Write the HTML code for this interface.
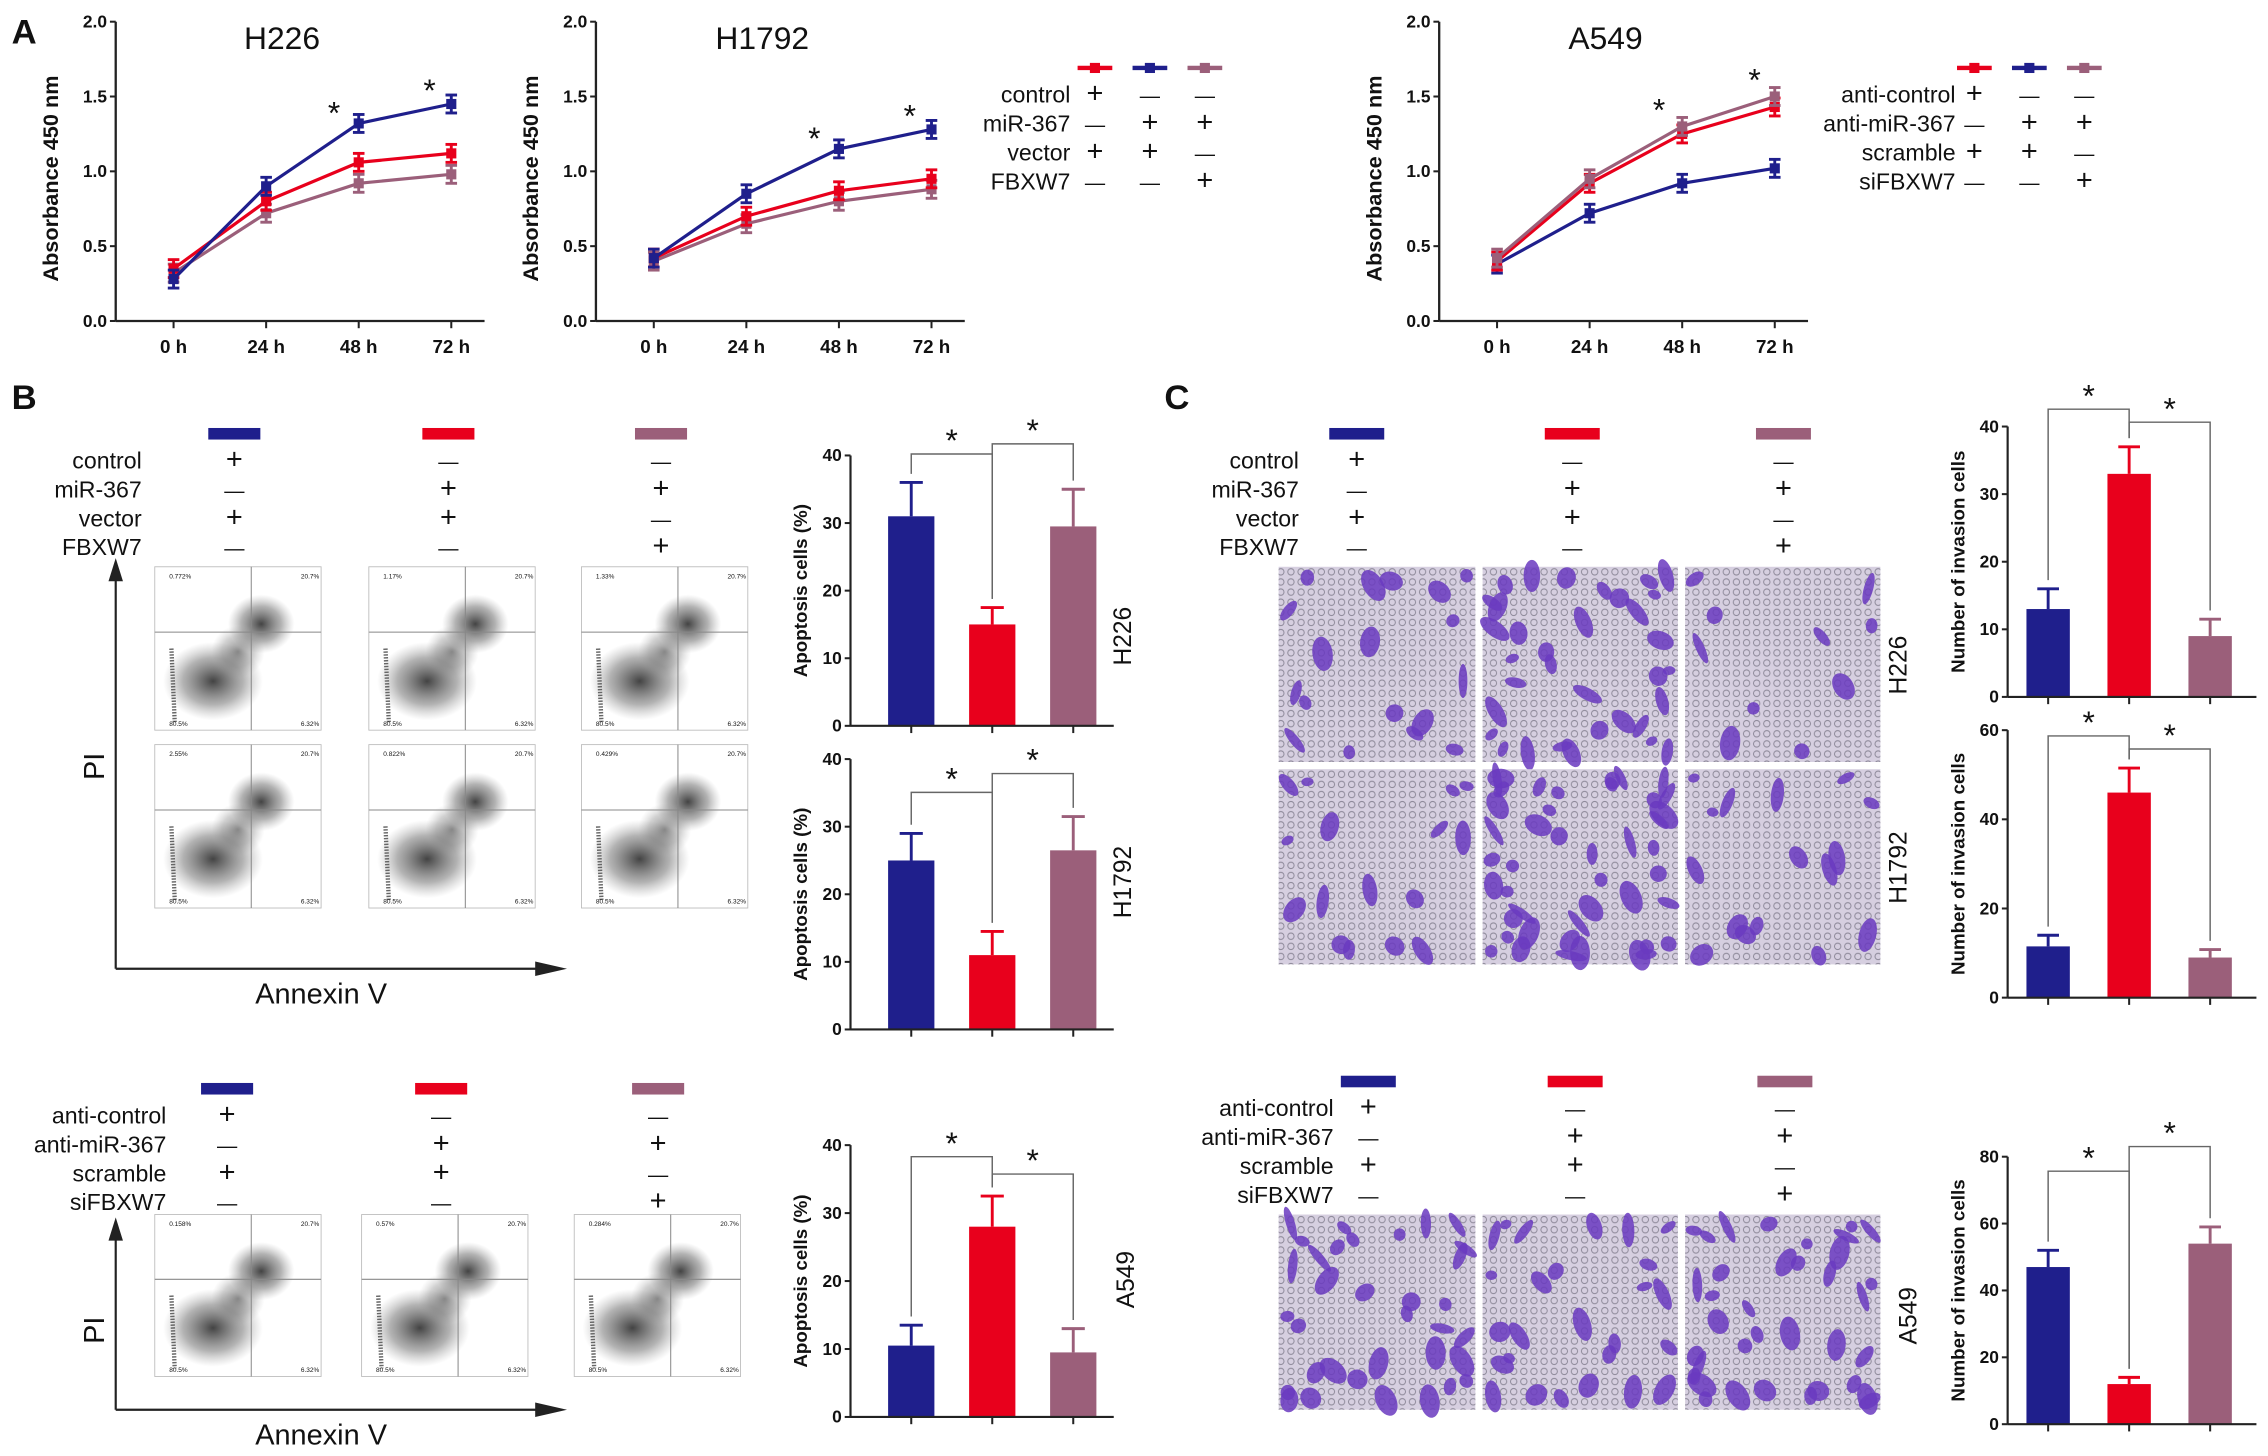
<!DOCTYPE html>
<html><head><meta charset="utf-8"><style>
html,body{margin:0;padding:0;background:#fff}
svg{display:block;font-family:"Liberation Sans",Arial,sans-serif}
</style></head><body>
<svg id="fig" xmlns="http://www.w3.org/2000/svg" width="2268" height="1456" viewBox="0 0 1568 1007" preserveAspectRatio="none">
<defs>
<radialGradient id="cloud"><stop offset="0" stop-color="#222" stop-opacity="0.85"/><stop offset="0.6" stop-color="#555" stop-opacity="0.45"/><stop offset="1" stop-color="#888" stop-opacity="0"/></radialGradient>
<pattern id="rings" width="7" height="7" patternUnits="userSpaceOnUse"><circle cx="3.5" cy="3.5" r="2.2" fill="none" stroke="#7c7888" stroke-width="0.7"/></pattern>
</defs>
<g id="root"></g>
</svg>
<script>
// ---- Panel A data ----
const timeLabels = ["0 h","24 h","48 h","72 h"];
const aTicks = [0,0.5,1.0,1.5,2.0];
const h226Blue = [0.28,0.90,1.32,1.45];
const h226Red = [0.35,0.80,1.06,1.12];
const h226Mauve = [0.32,0.72,0.92,0.98];
const h1792Blue = [0.42,0.85,1.15,1.28];
const h1792Red = [0.42,0.70,0.87,0.95];
const h1792Mauve = [0.40,0.65,0.80,0.88];
const a549Blue = [0.38,0.72,0.92,1.02];
const a549Red = [0.40,0.92,1.25,1.43];
const a549Mauve = [0.42,0.95,1.30,1.50];
// ---- Panel B data (apoptosis %) ----
const apoH226 = [31,15,29.5]; const apoH226Err = [5,2.5,5.5];
const apoH1792 = [25,11,26.5]; const apoH1792Err = [4,3.5,5];
const apoA549 = [10.5,28,9.5]; const apoA549Err = [3,4.5,3.5];
const apoTicks = [0,10,20,30,40];
// ---- Panel C data (invasion cells) ----
const invH226 = [13,33,9]; const invH226Err = [3,4,2.5];
const invH1792 = [11.5,46,9]; const invH1792Err = [2.5,5.5,1.8];
const invA549 = [47,12,54]; const invA549Err = [5,2,5];
const invTicks40 = [0,10,20,30,40];
const invTicks60 = [0,20,40,60];
const invTicks80 = [0,20,40,60,80];

const BLUE="#1f1f8c", RED="#e8001c", MAUVE="#9b5f7a";
const NS="http://www.w3.org/2000/svg";
const root=document.getElementById('root');
function el(tag,attrs,parent,text){const e=document.createElementNS(NS,tag);for(const k in attrs)e.setAttribute(k,attrs[k]);if(text!==undefined)e.textContent=text;(parent||root).appendChild(e);return e;}
function txt(x,y,s,size,opts,parent){const o=Object.assign({x:x,y:y,'font-size':size,fill:'#111'},opts||{});return el('text',o,parent,s);}

let t;
t=txt(8,30,"A",24,{'font-weight':'bold'});
t=txt(8,283,"B",24,{'font-weight':'bold'});
t=txt(805,283,"C",24,{'font-weight':'bold'});

function lineChart(name,ax,title,series){
  const g=el('g',{});
  
  
  const y0=222,yTop=15;
  const ys=v=>y0-(v/2.0)*(y0-yTop);
  const xs=i=>ax+40+i*64;
  el('line',{x1:ax,y1:yTop,x2:ax,y2:y0,stroke:'#222','stroke-width':1.6},g);
  el('line',{x1:ax,y1:y0,x2:ax+255,y2:y0,stroke:'#222','stroke-width':1.6},g);
  aTicks.forEach(v=>{el('line',{x1:ax-4,y1:ys(v),x2:ax,y2:ys(v),stroke:'#222','stroke-width':1.4},g);
    const tl=txt(ax-6,ys(v)+4,v.toFixed(1),12,{'text-anchor':'end','font-weight':'bold'},g);});
  timeLabels.forEach((s,i)=>{el('line',{x1:xs(i),y1:y0,x2:xs(i),y2:y0+5,stroke:'#222','stroke-width':1.4},g);
    const tl=txt(xs(i),y0+22,s,13,{'text-anchor':'middle','font-weight':'bold'},g);});
  const yt=txt(0,0,"Absorbance 450 nm",15,{'font-weight':'bold','text-anchor':'middle',transform:`translate(${ax-40},${(y0+yTop)/2+5}) rotate(-90)`},g);
  
  const tt=txt(ax+115,34,title,22,{'text-anchor':'middle'},g);
  series.forEach(s=>{
    const p=el('polyline',{points:s.vals.map((v,i)=>xs(i)+','+ys(v)).join(' '),fill:'none',stroke:s.c,'stroke-width':2.2},g);
    
    s.vals.forEach((v,i)=>{const e=0.06;
      el('line',{x1:xs(i),y1:ys(v+e),x2:xs(i),y2:ys(v-e),stroke:s.c,'stroke-width':2},g);
      el('line',{x1:xs(i)-4,y1:ys(v+e),x2:xs(i)+4,y2:ys(v+e),stroke:s.c,'stroke-width':2},g);
      el('line',{x1:xs(i)-4,y1:ys(v-e),x2:xs(i)+4,y2:ys(v-e),stroke:s.c,'stroke-width':2},g);
      const m=el('rect',{x:xs(i)-3.5,y:ys(v)-3.5,width:7,height:7,fill:s.c},g);
      });
  });
  return {g,xs,ys};
}
const c1=lineChart('line-chart-h226',80,"H226",[{n:'mauve',c:MAUVE,vals:h226Mauve},{n:'red',c:RED,vals:h226Red},{n:'blue',c:BLUE,vals:h226Blue}]);
txt(c1.xs(2)-17,c1.ys(h226Blue[2])+0,"*",22,{'text-anchor':'middle'},c1.g);
txt(c1.xs(3)-15,c1.ys(h226Blue[3])-2,"*",22,{'text-anchor':'middle'},c1.g);
const c2=lineChart('line-chart-h1792',412,"H1792",[{n:'mauve',c:MAUVE,vals:h1792Mauve},{n:'red',c:RED,vals:h1792Red},{n:'blue',c:BLUE,vals:h1792Blue}]);
txt(c2.xs(2)-17,c2.ys(h1792Blue[2])+0,"*",22,{'text-anchor':'middle'},c2.g);
txt(c2.xs(3)-15,c2.ys(h1792Blue[3])-2,"*",22,{'text-anchor':'middle'},c2.g);
const c3=lineChart('line-chart-a549',995,"A549",[{n:'blue',c:BLUE,vals:a549Blue},{n:'red',c:RED,vals:a549Red},{n:'mauve',c:MAUVE,vals:a549Mauve}]);
txt(c3.xs(2)-16,c3.ys(a549Mauve[2])-4,"*",22,{'text-anchor':'middle'},c3.g);
txt(c3.xs(3)-14,c3.ys(a549Mauve[3])-4,"*",22,{'text-anchor':'middle'},c3.g);

function lineLegend(name,rightX,mx,labels,signs){
  const g=el('g',{});
  [RED,BLUE,MAUVE].forEach((c,i)=>{el('line',{x1:mx[i]-12,y1:47,x2:mx[i]+12,y2:47,stroke:c,'stroke-width':3},g);
    el('rect',{x:mx[i]-3.5,y:43.5,width:7,height:7,fill:c},g);});
  labels.forEach((s,r)=>{const y=71+r*20;txt(rightX,y,s,16,{'text-anchor':'end'},g);
    signs[r].forEach((sg,i)=>txt(mx[i],y,sg==='+'?'+':'\u2014',sg==='+'?20:14,{'text-anchor':'middle'},g));});
}
const sgn=[["+","-","-"],["-","+","+"],["+","+","-"],["-","-","+"]];
lineLegend('legend-a-h1792',740,[757,795,833],["control","miR-367","vector","FBXW7"],sgn);
lineLegend('legend-a-a549',1352,[1365,1403,1441],["anti-control","anti-miR-367","scramble","siFBXW7"],sgn);

function barLegend(name,rightX,cols,barY,bw,labels){
  const g=el('g',{});
  [BLUE,RED,MAUVE].forEach((c,i)=>el('rect',{x:cols[i]-bw/2,y:barY-4,width:bw,height:8,fill:c},g));
  labels.forEach((s,r)=>{const y=barY+24+r*20;txt(rightX,y,s,16,{'text-anchor':'end'},g);
    sgn[r].forEach((sg,i)=>txt(cols[i],y,sg==='+'?'+':'\u2014',sg==='+'?20:14,{'text-anchor':'middle'},g));});
}
barLegend('legend-b-top',98,[162,310,457],300,36,["control","miR-367","vector","FBXW7"]);
barLegend('legend-b-bottom',115,[157,305,455],753,36,["anti-control","anti-miR-367","scramble","siFBXW7"]);
barLegend('legend-c-top',898,[938,1087,1233],300,38,["control","miR-367","vector","FBXW7"]);
barLegend('legend-c-bottom',922,[946,1089,1234],748,38,["anti-control","anti-miR-367","scramble","siFBXW7"]);

const quadA=["0.772%","1.17%","1.33%","2.55%","0.822%","0.429%","0.158%","0.57%","0.284%"];
function flowPlot(name,x,y,w,h,q){
  const g=el('g',{});
  el('rect',{x,y,width:w,height:h,fill:'#fff',stroke:'#bbb','stroke-width':0.6},g);
  el('ellipse',{cx:x+w*0.35,cy:y+h*0.7,rx:w*0.3,ry:h*0.24,fill:'url(#cloud)'},g);
  el('ellipse',{cx:x+w*0.64,cy:y+h*0.35,rx:w*0.2,ry:h*0.18,fill:'url(#cloud)'},g);
  el('ellipse',{cx:x+w*0.5,cy:y+h*0.52,rx:w*0.16,ry:h*0.16,fill:'url(#cloud)',opacity:0.6},g);
  el('line',{x1:x+w*0.1,y1:y+h*0.5,x2:x+w*0.12,y2:y+h*0.95,stroke:'#666','stroke-width':3,'stroke-dasharray':'1 1'},g);
  el('line',{x1:x,y1:y+h*0.4,x2:x+w,y2:y+h*0.4,stroke:'#888','stroke-width':0.7},g);
  el('line',{x1:x+w*0.58,y1:y,x2:x+w*0.58,y2:y+h,stroke:'#888','stroke-width':0.7},g);
  txt(x+10,y+8,q,4.5,{},g);txt(x+w-14,y+8,"20.7%",4.5,{},g);
  txt(x+10,y+h-3,"80.5%",4.5,{},g);txt(x+w-14,y+h-3,"6.32%",4.5,{},g);
}
[107,255,402].forEach((x,i)=>flowPlot('flow-plot-h226-'+(i+1),x,392,115,113,quadA[i]));
[107,255,402].forEach((x,i)=>flowPlot('flow-plot-h1792-'+(i+1),x,515,115,113,quadA[3+i]));
[107,250,397].forEach((x,i)=>flowPlot('flow-plot-a549-'+(i+1),x,840,115,112,quadA[6+i]));
function flowAxes(name,top,bottom,py){
  const g=el('g',{});
  el('line',{x1:80,y1:bottom,x2:80,y2:top+8,stroke:'#222','stroke-width':1.5},g);
  el('polygon',{points:`75,${top+10} 85,${top+10} 80,${top-6}`,fill:'#222'},g);
  el('line',{x1:80,y1:bottom,x2:375,y2:bottom,stroke:'#222','stroke-width':1.5},g);
  el('polygon',{points:`370,${bottom-5} 370,${bottom+5} 392,${bottom}`,fill:'#222'},g);
  txt(0,0,"PI",20,{'text-anchor':'middle',transform:`translate(72,${py}) rotate(-90)`},g);
  txt(222,bottom+24,"Annexin V",20,{'text-anchor':'middle'},g);
}
flowAxes('flow-axes-b-top',392,670,530);
flowAxes('flow-axes-b-bottom',848,975,920);

function invImage(name,x,y,w,h,density,seed){
  const g=el('g',{});
  el('rect',{x,y,width:w,height:h,fill:'#d6cfe0'},g);
  el('rect',{x,y,width:w,height:h,fill:'url(#rings)',opacity:0.8},g);
  for(let k=0;k<density;k++){
    const fx=(Math.sin(seed*13.1+k*7.37)*0.5+0.5), fy=(Math.sin(seed*5.7+k*3.91+1.3)*0.5+0.5);
    const rx=3+4*(Math.sin(k*2.3+seed)*0.5+0.5), ry=4+8*(Math.cos(k*1.7+seed)*0.5+0.5);
    const cx=x+6+fx*(w-12), cy=y+6+fy*(h-12);
    el('ellipse',{cx,cy,rx,ry,fill:'#6a3ac0',opacity:0.85,transform:`rotate(${(k*47+seed*31)%180} ${cx} ${cy})`},g);
  }
}
const cx=[884,1025,1165];
invImage('invasion-image-h226-1',cx[0],392,136,135,18,1);
invImage('invasion-image-h226-2',cx[1],392,135,135,34,2);
invImage('invasion-image-h226-3',cx[2],392,135,135,10,3);
invImage('invasion-image-h1792-1',cx[0],532,136,135,16,4);
invImage('invasion-image-h1792-2',cx[1],532,135,135,44,5);
invImage('invasion-image-h1792-3',cx[2],532,135,135,16,6);
invImage('invasion-image-a549-1',cx[0],840,136,135,34,7);
invImage('invasion-image-a549-2',cx[1],840,135,135,26,8);
invImage('invasion-image-a549-3',cx[2],840,135,135,36,9);
[["H226",1318,460],["H1792",1318,600],["A549",1325,910],["H226",782,440],["H1792",782,610],["A549",784,885]].forEach(a=>{
  const l=txt(0,0,a[0],17,{'text-anchor':'middle',transform:`translate(${a[1]},${a[2]}) rotate(-90)`});
  });

function barChart(name,ax,yTop,y0,ticks,vals,errs,off,sp,bw,title,xEnd,brk){
  const g=el('g',{});
  const max=ticks[ticks.length-1];
  const ys=v=>y0-(v/max)*(y0-yTop);
  const xs=i=>ax+off+i*sp;
  const cols=[BLUE,RED,MAUVE];
  vals.forEach((v,i)=>{
    const b=el('rect',{x:xs(i)-bw/2,y:ys(v),width:bw,height:y0-ys(v),fill:cols[i]},g);
    
    el('line',{x1:xs(i),y1:ys(v),x2:xs(i),y2:ys(v+errs[i]),stroke:cols[i],'stroke-width':2},g);
    el('line',{x1:xs(i)-bw/4,y1:ys(v+errs[i]),x2:xs(i)+bw/4,y2:ys(v+errs[i]),stroke:cols[i],'stroke-width':2},g);
    el('line',{x1:xs(i),y1:y0,x2:xs(i),y2:y0+5,stroke:'#222','stroke-width':1.4},g);
  });
  el('line',{x1:ax,y1:yTop,x2:ax,y2:y0,stroke:'#222','stroke-width':1.5},g);
  el('line',{x1:ax,y1:y0,x2:xEnd,y2:y0,stroke:'#222','stroke-width':1.5},g);
  ticks.forEach(v=>{el('line',{x1:ax-4,y1:ys(v),x2:ax,y2:ys(v),stroke:'#222','stroke-width':1.4},g);
    const tl=txt(ax-6,ys(v)+4,String(v),12,{'text-anchor':'end','font-weight':'bold'},g);});
  txt(0,0,title,13,{'font-weight':'bold','text-anchor':'middle',transform:`translate(${ax-30},${(y0+yTop)/2}) rotate(-90)`},g);
  brk.forEach(b=>{
    const a=xs(b[0]),c=xs(b[1]),by=b[2];
    el('polyline',{points:`${a},${ys(vals[b[0]]+errs[b[0]])-6} ${a},${by} ${c},${by} ${c},${ys(vals[b[1]]+errs[b[1]])-6}`,fill:'none',stroke:'#666','stroke-width':1},g);
    txt((a+c)/2,by+b[3],"*",22,{'text-anchor':'middle'},g);
  });
}
barChart('bar-chart-apoptosis-h226',588,315,502,apoTicks,apoH226,apoH226Err,42,56,32,"Apoptosis cells (%)",770,[[0,1,314,-2],[1,2,307,-2]]);
barChart('bar-chart-apoptosis-h1792',588,525,712,apoTicks,apoH1792,apoH1792Err,42,56,32,"Apoptosis cells (%)",770,[[0,1,548,-2],[1,2,535,-2]]);
barChart('bar-chart-apoptosis-a549',588,792,980,apoTicks,apoA549,apoA549Err,42,56,32,"Apoptosis cells (%)",770,[[0,1,800,-2],[1,2,812,-2]]);
barChart('bar-chart-invasion-h226',1388,295,482,invTicks40,invH226,invH226Err,28,56,30,"Number of invasion cells",1560,[[0,1,283,-2],[1,2,292,-2]]);
barChart('bar-chart-invasion-h1792',1388,505,690,invTicks60,invH1792,invH1792Err,28,56,30,"Number of invasion cells",1560,[[0,1,509,-2],[1,2,518,-2]]);
barChart('bar-chart-invasion-a549',1388,800,985,invTicks80,invA549,invA549Err,28,56,30,"Number of invasion cells",1560,[[0,1,810,-2],[1,2,793,-2]]);
</script>
</body></html>
